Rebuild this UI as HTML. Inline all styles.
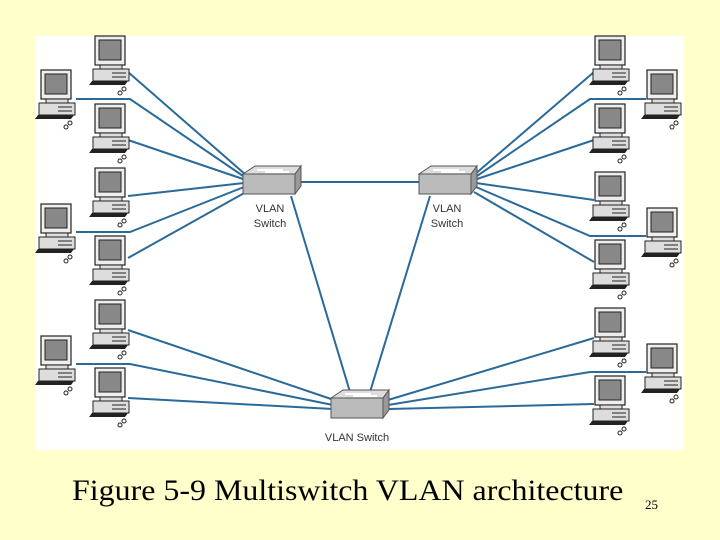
<!DOCTYPE html>
<html><head><style>
body{margin:0;width:720px;height:540px;background:#FFFFCC;position:relative;overflow:hidden;font-family:"Liberation Sans",sans-serif}
svg{position:absolute;left:0;top:0}
.cap{position:absolute;left:72px;top:474px;font-family:"Liberation Serif",serif;font-size:30px;color:#000;white-space:nowrap;transform:scaleX(1.065);transform-origin:0 0}
.pg{position:absolute;left:645px;top:497px;font-family:"Liberation Serif",serif;font-size:13px}
</style></head><body>
<svg width="720" height="540" viewBox="0 0 720 540">
<defs>
<g id="pc">
<rect x="3" y="0" width="30" height="29" fill="#eee" stroke="#222" stroke-width="1.2"/>
<rect x="7" y="4" width="22" height="20" fill="#888" stroke="#222"/>
<rect x="8" y="29" width="22" height="4" fill="#ddd" stroke="#222"/>
<rect x="1" y="33" width="36" height="12" fill="#ddd" stroke="#222"/>
<line x1="20" y1="37" x2="34" y2="37" stroke="#222"/>
<line x1="20" y1="41" x2="34" y2="41" stroke="#222"/>
<polygon points="0,45 36,45 33,49 -3,49" fill="#222"/>
<circle cx="32" cy="53" r="2" fill="none" stroke="#222"/>
<circle cx="28" cy="57" r="2" fill="none" stroke="#222"/>
</g>
<g id="sw">
<polygon points="0,8 12,0 58,0 52,8" fill="#ddd" stroke="#555"/>
<rect x="0" y="8" width="52" height="20" fill="#bbb" stroke="#555"/>
<polygon points="52,8 58,0 58,20 52,28" fill="#999" stroke="#555"/>
<path d="M14,4 h26 M22,6 h24" stroke="#fff" stroke-width="2"/>
</g>
</defs>
<rect x="36" y="36" width="648" height="414" fill="#fff"/>
<g stroke="#2a6a9a" stroke-width="2" fill="none">
<line x1="128" y1="72" x2="246" y2="175"/>
<polyline points="76,99 130,99 246,178"/>
<line x1="128" y1="140" x2="246" y2="180"/>
<line x1="128" y1="196" x2="244" y2="183"/>
<polyline points="76,232 130,232 244,187"/>
<line x1="128" y1="258" x2="246" y2="192"/>
<line x1="594" y1="72" x2="474" y2="175"/>
<polyline points="646,99 590,99 474,178"/>
<line x1="594" y1="140" x2="474" y2="180"/>
<line x1="594" y1="200" x2="476" y2="183"/>
<polyline points="646,236 590,236 476,187"/>
<line x1="594" y1="262" x2="474" y2="192"/>
<line x1="128" y1="330" x2="334" y2="400"/>
<polyline points="76,364 130,364 333,405"/>
<line x1="128" y1="398" x2="333" y2="409"/>
<line x1="594" y1="338" x2="388" y2="400"/>
<polyline points="646,372 590,372 388,405"/>
<line x1="594" y1="404" x2="388" y2="409"/>
<line x1="298" y1="182" x2="420" y2="182"/>
<line x1="291" y1="196" x2="350" y2="392"/>
<line x1="430" y1="196" x2="370" y2="392"/>
</g>
<use href="#pc" x="92" y="36"/><use href="#pc" x="92" y="104"/><use href="#pc" x="92" y="168"/>
<use href="#pc" x="92" y="236"/><use href="#pc" x="92" y="300"/><use href="#pc" x="92" y="368"/>
<use href="#pc" x="38" y="70"/><use href="#pc" x="38" y="204"/><use href="#pc" x="38" y="336"/>
<use href="#pc" x="592" y="36"/><use href="#pc" x="592" y="104"/><use href="#pc" x="592" y="172"/>
<use href="#pc" x="592" y="240"/><use href="#pc" x="592" y="308"/><use href="#pc" x="592" y="376"/>
<use href="#pc" x="644" y="70"/><use href="#pc" x="644" y="208"/><use href="#pc" x="644" y="344"/>
<use href="#sw" x="243" y="166"/><use href="#sw" x="419" y="166"/><use href="#sw" x="331" y="390"/>
<g font-family="Liberation Sans,sans-serif" font-size="11" fill="#333" text-anchor="middle">
<text x="270" y="212">VLAN</text><text x="270" y="227">Switch</text>
<text x="447" y="212">VLAN</text><text x="447" y="227">Switch</text>
<text x="357" y="441">VLAN Switch</text>
</g>
</svg>
<div class="cap">Figure 5-9 Multiswitch VLAN architecture</div>
<div class="pg">25</div>
</body></html>
